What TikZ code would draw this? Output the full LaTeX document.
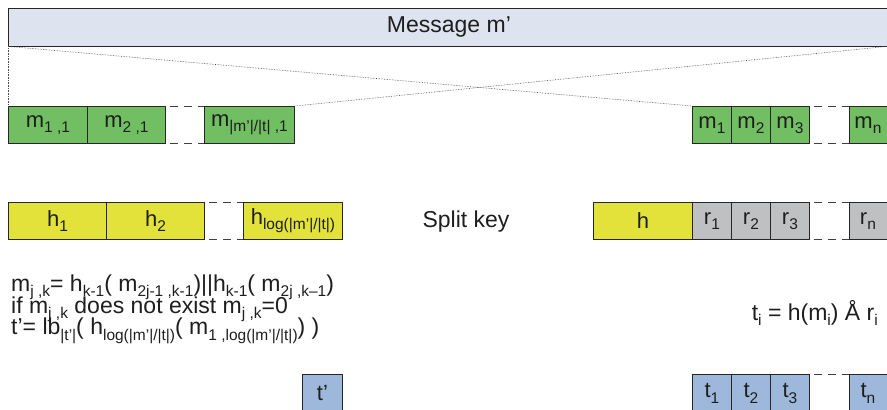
\documentclass[tikz,border=0pt]{standalone}
\usepackage{fontspec}
\setmainfont{Liberation Sans}
\newcommand\lo[1]{\raisebox{-0.24em}{\fontsize{15.5}{15.5}\selectfont #1}}
\definecolor{msgc}{RGB}{221,228,240}
\definecolor{grn}{RGB}{114,190,98}
\definecolor{yel}{RGB}{226,226,58}
\definecolor{gry}{RGB}{190,192,194}
\definecolor{blu}{RGB}{157,184,219}
\definecolor{txt}{RGB}{30,30,30}
\begin{document}
\begin{tikzpicture}[x=1pt,y=-1pt,
  box/.style={draw=black!85, line width=0.9pt, minimum height=37pt, anchor=north west,
    inner sep=0pt, text=txt, font=\fontsize{22}{22}\selectfont},
  gapline/.style={draw=black!75, line width=0.9pt, dash pattern=on 8pt off 6pt, dash phase=-4pt},
  dotline/.style={draw=black!70, line width=0.6pt, densely dotted},
  plain/.style={text=txt, inner sep=0pt, font=\fontsize{23}{23}\selectfont}]
\useasboundingbox (0,0) rectangle (887,410);
\clip (0,0) rectangle (887,410);
% message
\node[box, fill=msgc, minimum width=881pt, minimum height=38pt, font=\fontsize{23}{23}\selectfont] (msg) at (8,7.5) {Message m’};
% m row
\node[box, fill=grn, minimum width=79pt] (m11) at (8,106) {m\lo{1 ,1}};
\node[box, fill=grn, minimum width=78pt] (m21) at (87,106) {m\lo{2 ,1}};
\node[box, fill=grn, minimum width=90pt] (mL) at (204,106) {m\lo{|m'|/|t| ,1}};
\node[box, fill=grn, minimum width=39pt] (m1) at (692,106) {m\lo{1}};
\node[box, fill=grn, minimum width=39pt] (m2) at (731,106) {m\lo{2}};
\node[box, fill=grn, minimum width=39pt] (m3) at (770,106) {m\lo{3}};
\node[box, fill=grn, minimum width=41pt] (mn) at (849,106) {\hspace*{-4pt}m\lo{n}};
\draw[gapline] (m21.north east) -- (mL.north west);
\draw[gapline] (m21.south east) -- (mL.south west);
\draw[gapline] (m3.north east) -- (mn.north west);
\draw[gapline] (m3.south east) -- (mn.south west);
% dotted connectors
\draw[dotline] (msg.south west) -- (m11.north west);
\draw[dotline] ([xshift=-3pt]msg.south east) -- ([xshift=-4pt]mn.north east);
\draw[dotline] (msg.south west) -- (m1.north west);
\draw[dotline] ([xshift=-3pt]msg.south east) -- (mL.north east);
% h row
\node[box, fill=yel, minimum width=98pt] (h1) at (8,202) {h\lo{1}};
\node[box, fill=yel, minimum width=98pt] (h2) at (106,202) {h\lo{2}};
\node[box, fill=yel, minimum width=99pt] (hL) at (243,202) {h\lo{log(|m’|/|t|)}};
\draw[gapline] (h2.north east) -- (hL.north west);
\draw[gapline] (h2.south east) -- (hL.south west);
\node[plain, anchor=center] (split) at (466,222) {Split key};
\node[box, fill=yel, minimum width=99pt] (h) at (593,202) {h};
\node[box, fill=gry, minimum width=39pt] (r1) at (692,202) {r\lo{1}};
\node[box, fill=gry, minimum width=39pt] (r2) at (731,202) {r\lo{2}};
\node[box, fill=gry, minimum width=39pt] (r3) at (770,202) {r\lo{3}};
\node[box, fill=gry, minimum width=41pt] (rn) at (849,202) {\hspace*{-4pt}r\lo{n}};
\draw[gapline] (r3.north east) -- (rn.north west);
\draw[gapline] (r3.south east) -- (rn.south west);
% formulas
\node[plain, anchor=base west] (f1) at (11,291)
 {m\lo{j ,k}= h\lo{k-1}( m\lo{2j-1 ,k-1})||h\lo{k-1}( m\lo{2j ,k–1})};
\node[plain, anchor=base west] (f2) at (11,313)
 {if m\lo{j ,k} does not exist m\lo{j ,k}=0};
\node[plain, anchor=base west] (f3) at (11,334.5)
 {t’= lb\lo{|t’|}( h\lo{log(|m’|/|t|)}( m\lo{1 ,log(|m’|/|t|)}) )};
\node[plain, anchor=base east] (ti) at (878,320) {t\lo{i} = h(m\lo{i}) Å r\lo{i}};
% t row
\node[box, fill=blu, minimum width=40pt, minimum height=38pt] (tp) at (302,374) {t’};
\node[box, fill=blu, minimum width=39pt, minimum height=38pt] (t1) at (692,374) {t\lo{1}};
\node[box, fill=blu, minimum width=39pt, minimum height=38pt] (t2) at (731,374) {t\lo{2}};
\node[box, fill=blu, minimum width=39pt, minimum height=38pt] (t3) at (770,374) {t\lo{3}};
\node[box, fill=blu, minimum width=41pt, minimum height=38pt] (tn) at (849,374) {\hspace*{-4pt}t\lo{n}};
\draw[gapline] (t3.north east) -- (tn.north west);
\end{tikzpicture}
\end{document}
